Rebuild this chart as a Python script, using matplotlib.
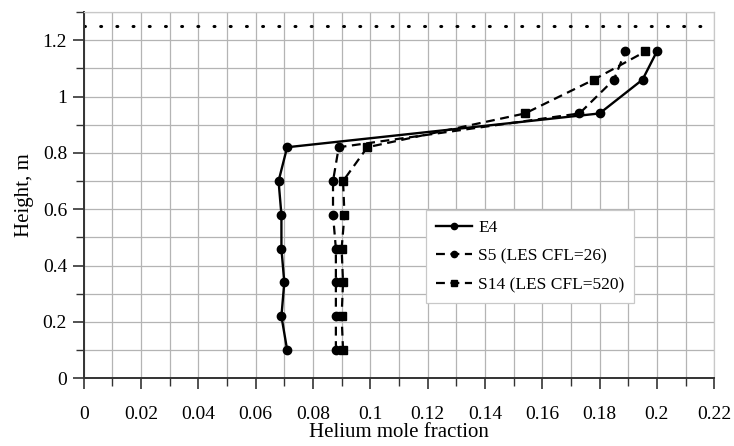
import matplotlib
matplotlib.use("Agg")
import matplotlib.pyplot as plt
from matplotlib.ticker import MultipleLocator, FuncFormatter

heights = [0.10, 0.22, 0.34, 0.46, 0.58, 0.70, 0.82, 0.94, 1.06, 1.16]
e4 = [0.071, 0.069, 0.070, 0.069, 0.069, 0.068, 0.071, 0.180, 0.195, 0.200]
s5 = [0.088, 0.088, 0.088, 0.088, 0.087, 0.087, 0.089, 0.173, 0.185, 0.189]
s14 = [0.0905, 0.090, 0.0905, 0.090, 0.091, 0.0905, 0.099, 0.154, 0.178, 0.196]
top_level = 1.25

labels = ["E4", "S5 (LES CFL=26)", "S14 (LES CFL=520)"]
xticks = [0, 0.02, 0.04, 0.06, 0.08, 0.1, 0.12, 0.14, 0.16, 0.18, 0.2, 0.22]
yticks = [0, 0.2, 0.4, 0.6, 0.8, 1, 1.2]

plt.rcParams['font.family'] = ['Liberation Serif', 'DejaVu Serif']

fig = plt.figure(figsize=(7.34, 4.46), dpi=100)
ax = fig.add_axes([0.114, 0.152, 0.859, 0.821])

ax.plot(e4, heights, '-', color='black', lw=1.7, marker='o', ms=6, label=labels[0])
ax.plot(s5, heights, '--', color='black', lw=1.6, marker='o', ms=6, dashes=(4, 2.5), label=labels[1])
ax.plot(s14, heights, '--', color='black', lw=1.6, marker='s', ms=6, dashes=(4, 2.5), label=labels[2])
ax.axhline(top_level, color='black', lw=2.2, linestyle=(0, (0.3, 5.0)), dash_capstyle='round')

ax.set_xlim(0, 0.22)
ax.set_ylim(0, 1.3)
ax.set_xticks(xticks)
ax.set_yticks(yticks)
ax.xaxis.set_minor_locator(MultipleLocator(0.01))
ax.yaxis.set_minor_locator(MultipleLocator(0.1))
fmt = FuncFormatter(lambda v, p: ('%g' % round(v, 3)))
ax.xaxis.set_major_formatter(fmt)
ax.yaxis.set_major_formatter(fmt)
ax.grid(True, which='both', color='#b4b4b4', lw=0.9)
ax.set_axisbelow(True)
ax.tick_params(which='both', direction='out', labelsize=14, color='#333333')
ax.tick_params(which='major', length=8, width=1.2)
ax.tick_params(which='minor', length=6, width=1.0)
ax.tick_params(axis='x', pad=12)
ax.tick_params(axis='y', pad=4)
for s in ['top', 'right']:
    ax.spines[s].set_color('#c8c8c8')
    ax.spines[s].set_linewidth(0.9)
for s in ['left', 'bottom']:
    ax.spines[s].set_color('#333333')
    ax.spines[s].set_linewidth(1.4)

ax.set_xlabel('Helium mole fraction', fontsize=15, labelpad=0)
ax.set_ylabel('Height, m', fontsize=15, labelpad=6)

leg = ax.legend(loc='upper left', bbox_to_anchor=(0.543, 0.459), fontsize=12.5,
                frameon=True, fancybox=False, edgecolor='#c8c8c8', framealpha=1,
                handlelength=2.1, handletextpad=0.35, borderpad=0.55,
                labelspacing=0.72, borderaxespad=0, markerscale=0.75)
leg.get_frame().set_linewidth(0.9)

fig.savefig('out.png', dpi=100)
